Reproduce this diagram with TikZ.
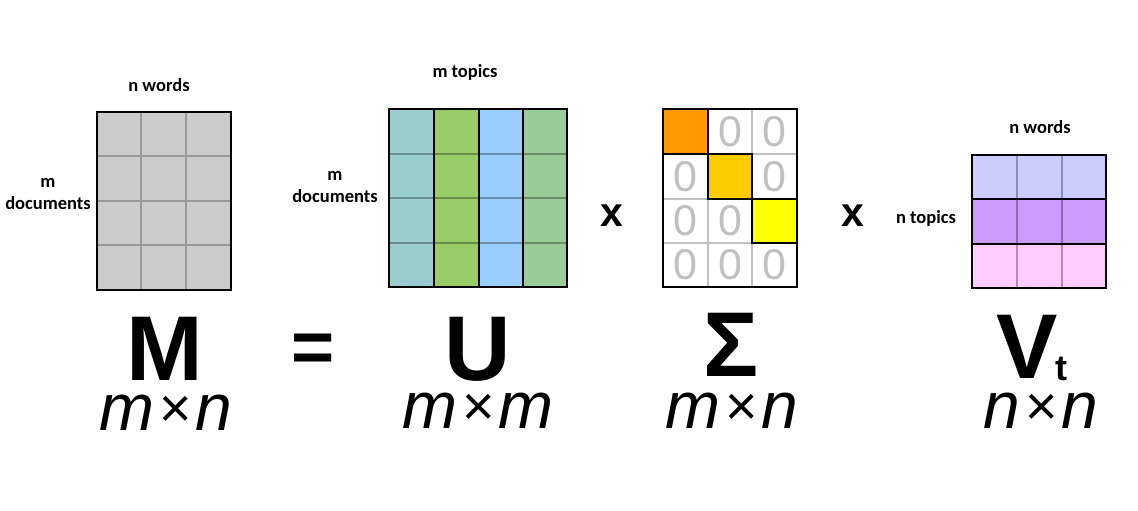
\documentclass[tikz,border=0pt]{standalone}
\usepackage{fontspec}
\setmainfont{Liberation Sans}
\newfontfamily\carl{Carlito}
\definecolor{mgray}{HTML}{CCCCCC}
\definecolor{gridgray}{HTML}{999999}
\definecolor{zgray}{HTML}{C0C0C0}
\definecolor{uone}{HTML}{99CCCC}
\definecolor{utwo}{HTML}{99CC66}
\definecolor{uthree}{HTML}{99CCFF}
\definecolor{ufour}{HTML}{99CC99}
\definecolor{sone}{HTML}{FF9900}
\definecolor{stwo}{HTML}{FFCC00}
\definecolor{sthree}{HTML}{FFFF00}
\definecolor{vone}{HTML}{CCCCFF}
\definecolor{vtwo}{HTML}{CC99FF}
\definecolor{vthree}{HTML}{FFCCFF}
\newcommand{\tms}{\kern0.06em\raisebox{0.04em}{\scalebox{0.85}{×}}\kern0.06em}
\begin{document}
\begin{tikzpicture}[x=1pt,y=-1pt,
  lbl/.style={font=\carl\bfseries\fontsize{18.5}{22}\selectfont, align=center, inner sep=0pt},
  big/.style={font=\bfseries\fontsize{92}{92}\selectfont, inner sep=0pt, anchor=base},
  dimtxt/.style={font=\itshape\fontsize{66}{66}\selectfont, inner sep=0pt, anchor=base},
  optxt/.style={font=\bfseries\fontsize{41}{41}\selectfont, inner sep=0pt},
  zero/.style={font=\fontsize{43}{43}\selectfont, text=zgray, inner sep=0pt},
  border/.style={draw=black, line width=2pt},
  thin/.style={line width=1.6pt}]
\useasboundingbox (0,0) rectangle (1138,511);
\fill[white] (0,0) rectangle (1138,511);

% ---------- M ----------
\fill[mgray] (97,112) rectangle (231,290);
\foreach \x in {141,186} \draw[gridgray,thin] (\x,112) -- (\x,290);
\foreach \y in {156,201,245} \draw[gridgray,thin] (97,\y) -- (231,\y);
\draw[border] (97,112) rectangle (231,290);
\node[lbl] (mwords) at (159,85) {n words};
\node[lbl] (mdocs) at (48,194) {m\\documents};

% ---------- U ----------
\fill[uone]   (389,109) rectangle (434,287);
\fill[utwo]   (434,109) rectangle (479,287);
\fill[uthree] (479,109) rectangle (523,287);
\fill[ufour]  (523,109) rectangle (567,287);
\foreach \y in {154,198,243} \draw[black,opacity=0.3,thin] (389,\y) -- (567,\y);
\foreach \x in {434,479,523} \draw[black,line width=1.8pt] (\x,109) -- (\x,287);
\draw[border] (389,109) rectangle (567,287);
\node[lbl] (utopics) at (465,72) {m topics};
\node[lbl] (udocs) at (335,187) {m\\documents};

\node[optxt] (x1) at (612,216) {x};

% ---------- Sigma ----------
\fill[white] (663,109) rectangle (797,287);
\foreach \x in {708,752} \draw[zgray,thin] (\x,109) -- (\x,287);
\foreach \y in {154,199,243} \draw[zgray,thin] (663,\y) -- (797,\y);
\filldraw[fill=sone,draw=black,line width=1.8pt] (663,109) rectangle (708,154);
\filldraw[fill=stwo,draw=black,line width=1.8pt] (708,154) rectangle (752,199);
\filldraw[fill=sthree,draw=black,line width=1.8pt] (752,199) rectangle (797,243);
\draw[border] (663,109) rectangle (797,287);
\node[zero] (z01) at (730,131.5) {0};
\node[zero] (z02) at (774.5,131.5) {0};
\node[zero] (z10) at (685.5,176.5) {0};
\node[zero] (z12) at (774.5,176.5) {0};
\node[zero] (z20) at (685.5,221) {0};
\node[zero] (z21) at (730,221) {0};
\node[zero] (z30) at (685.5,265) {0};
\node[zero] (z31) at (730,265) {0};
\node[zero] (z32) at (774.5,265) {0};

\node[optxt] (x2) at (853,216) {x};

% ---------- Vt ----------
\fill[vone]   (972,155) rectangle (1106,199);
\fill[vtwo]   (972,199) rectangle (1106,244);
\fill[vthree] (972,244) rectangle (1106,288);
\foreach \x in {1017,1062} \draw[black,opacity=0.3,thin] (\x,155) -- (\x,288);
\foreach \y in {199,244} \draw[black,line width=1.8pt] (972,\y) -- (1106,\y);
\draw[border] (972,155) rectangle (1106,288);
\node[lbl] (vwords) at (1040,127) {n words};
\node[lbl] (vtopics) at (926,218) {n topics};

% ---------- big letters ----------
\node[big] (bM) at (165,380) {M};
\node[dimtxt] (dM) at (166,430) {m\tms n};
\node[font=\bfseries\fontsize{74}{74}\selectfont, inner sep=0pt] (eq) at (313,353) {=};
\node[big] (bU) at (478,380) {U};
\node[dimtxt] (dU) at (478,428) {m\tms m};
\node[big] (bS) at (731,376) {Σ};
\node[dimtxt] (dS) at (732,428) {m\tms n};
\node[big] (bV) at (1027,378) {V};
\node[font=\bfseries\fontsize{36}{36}\selectfont, inner sep=0pt, anchor=base] (bt) at (1061,380) {t};
\node[dimtxt] (dV) at (1041,428) {n\tms n};
\end{tikzpicture}
\end{document}
